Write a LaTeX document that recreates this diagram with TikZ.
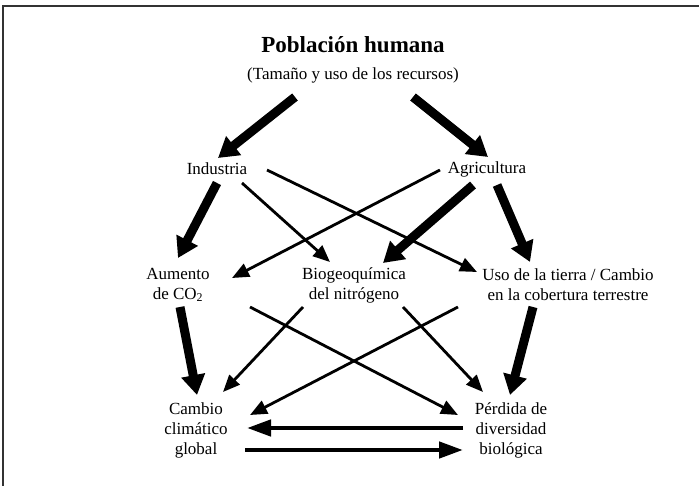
\documentclass[tikz,border=0pt]{standalone}
\usepackage{fontspec}
\setmainfont{Liberation Serif}
\usepackage{tikz}
\usetikzlibrary{arrows.meta}
\usetikzlibrary{positioning}

\begin{document}
\begin{tikzpicture}[
  x=1pt, y=-1pt,
  every node/.style={font=\fontsize{17}{20}\selectfont, align=center, inner sep=0pt},
  titulo/.style={font=\fontsize{23}{26}\selectfont\bfseries},
  gruesa/.style={line width=9pt, -{Triangle[length=20pt,width=23pt]}},
  fina/.style={line width=2.8pt, -{Triangle[length=17pt,width=14pt]}},
  media/.style={line width=4.5pt, -{Triangle[length=24pt,width=16pt]}}
]
\useasboundingbox (0,0) rectangle (699,486);
\draw[line width=1.6pt, black!80] (3,486) -- (3,6) -- (699,6);

\node [titulo] (pob) at (353,45) {Población humana};
\node (rec) at (353,75) {(Tamaño y uso de los recursos)};

\node (ind) at (217,169) {Industria};
\node (agr) at (487,169) {Agricultura};

\node (aum) at (178,285) {Aumento\\de CO\textsubscript{2}};
\node (bio) at (354,285) {Biogeoquímica\\del nitrógeno};
\node (uso) at (568,285) {Uso de la tierra / Cambio\\en la cobertura terrestre};

\node (cam) at (196,430) {Cambio\\climático\\global};
\node (per) at (511,430) {Pérdida de\\diversidad\\biológica};

% flechas gruesas
\draw [gruesa] ([shift={(-58,22)}]rec.center) -- ([shift={(1,-11)}]ind.center);
\draw [gruesa] ([shift={(60,22)}]rec.center) -- ([shift={(1,-12)}]agr.center);
\draw [gruesa] ([shift={(0,14)}]ind.center) -- ([shift={(0,-27)}]aum.center);
\draw [gruesa] ([shift={(-14,16)}]agr.center) -- ([shift={(29,-22)}]bio.center);
\draw [gruesa] ([shift={(10,16)}]agr.center) -- ([shift={(-38,-23)}]uso.center);
\draw [gruesa] ([shift={(2,22)}]aum.center) -- ([shift={(1,-35)}]cam.center);
\draw [gruesa] ([shift={(-35,22)}]uso.center) -- ([shift={(-1,-35)}]per.center);

% flechas finas
\draw [fina] ([shift={(25,14)}]ind.center) -- ([shift={(-24,-23)}]bio.center);
\draw [fina] ([shift={(50,1)}]ind.center) -- ([shift={(-91,-13)}]uso.center);
\draw [fina] ([shift={(-47,1)}]agr.center) -- ([shift={(54,-7)}]aum.center);
\draw [fina] ([shift={(72,22)}]aum.center) -- ([shift={(-53,-15)}]per.center);
\draw [fina] ([shift={(-51,22)}]bio.center) -- ([shift={(27,-38)}]cam.center);
\draw [fina] ([shift={(49,22)}]bio.center) -- ([shift={(-28,-38)}]per.center);
\draw [fina] ([shift={(-110,22)}]uso.center) -- ([shift={(54,-15)}]cam.center);

% entre cambio y perdida
\draw [media] ([shift={(-48,-2)}]per.center) -- ([shift={(51,-2)}]cam.center);
\draw [media] ([shift={(49,20)}]cam.center) -- ([shift={(-48,20)}]per.center);

\end{tikzpicture}
\end{document}
